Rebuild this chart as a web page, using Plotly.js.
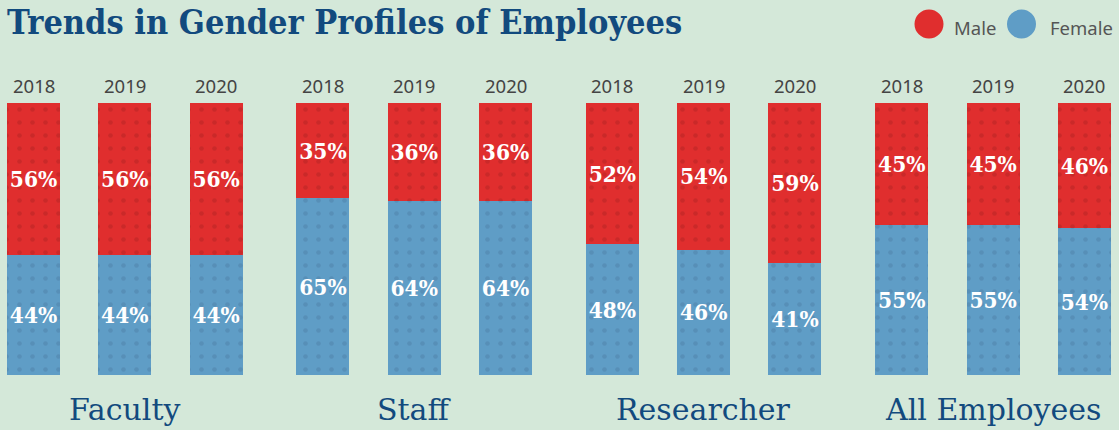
<!DOCTYPE html>
<html><head><meta charset="utf-8">
<script src="https://cdn.plot.ly/plotly-3.0.1.min.js"></script>
<style>html,body{margin:0;padding:0;background:#d4e8d9;}</style>
</head><body>
<div id="chart" style="width:1119px;height:430px;"></div>
<script>
const groups = ["Faculty", "Staff", "Researcher", "All Employees"];
const years = ["2018", "2019", "2020"];
const male = [56, 56, 56, 35, 36, 36, 52, 54, 59, 45, 45, 46];
const female = [44, 44, 44, 65, 64, 64, 48, 46, 41, 55, 55, 54];

const GROUP_STEP = 3.17;
const xs = [], yearLabels = [];
groups.forEach((g, gi) => years.forEach((y, yi) => { xs.push(gi * GROUP_STEP + yi); yearLabels.push(y); }));
const groupCenters = groups.map((g, gi) => gi * GROUP_STEP + 1);

const RED = "#e02e2e", BLUE = "#5f9dc6";
const pctFont = {family: "DejaVu Serif Condensed", size: 22.5, color: "#ffffff", weight: "bold"};

const femaleTrace = {
  type: "bar", x: xs, y: female, name: "Female", showlegend: false,
  marker: {color: BLUE, line: {width: 0}, pattern: {shape: ".", fgcolor: "#578fb7", size: 13, solidity: 0.1, fillmode: "replace", bgcolor: BLUE}},
  text: female.map(v => v + "%"), textposition: "inside", insidetextanchor: "middle", textangle: 0,
  constraintext: "none", textfont: pctFont, width: 0.58, hoverinfo: "skip"
};
const maleTrace = {
  type: "bar", x: xs, y: male, name: "Male", showlegend: false,
  marker: {color: RED, line: {width: 0}, pattern: {shape: ".", fgcolor: "#ca2929", size: 13, solidity: 0.1, fillmode: "replace", bgcolor: RED}},
  text: male.map(v => v + "%"), textposition: "inside", insidetextanchor: "middle", textangle: 0,
  constraintext: "none", textfont: pctFont, width: 0.58, hoverinfo: "skip"
};

const annotations = [];
xs.forEach((x, i) => annotations.push({
  x: x, y: 1, xref: "x", yref: "paper", yanchor: "bottom", yshift: 3, showarrow: false,
  text: yearLabels[i], font: {family: "Noto Sans", size: 18.5, color: "#444444"}
}));
groupCenters.forEach((x, i) => annotations.push({
  x: x, y: 0, xref: "x", yref: "paper", yanchor: "top", yshift: -15, showarrow: false,
  text: groups[i], font: {family: "DejaVu Serif", size: 30, color: "#124a7e"}
}));
annotations.push({
  x: 0, y: 1, xref: "paper", yref: "paper", xanchor: "left", yanchor: "middle",
  xshift: 5, yshift: 81, showarrow: false,
  text: "Trends in Gender Profiles of Employees",
  font: {family: "DejaVu Serif Condensed", size: 34, color: "#124a7e", weight: "bold"}
});
// legend
const legendItems = [{name: "Male", color: RED, px: 929, gap: 23}, {name: "Female", color: BLUE, px: 1021.5, gap: 26}];
const shapes = [];
legendItems.forEach(it => {
  const xf = it.px / 1119;
  shapes.push({type: "circle", xref: "paper", yref: "paper", xsizemode: "pixel", ysizemode: "pixel",
    xanchor: xf, yanchor: 1, x0: -14.5, x1: 14.5, y0: 64.5, y1: 93.5, fillcolor: it.color, line: {width: 0}});
  annotations.push({x: xf, y: 1, xref: "paper", yref: "paper", xanchor: "left", yanchor: "middle",
    xshift: it.gap, yshift: 76, showarrow: false, text: it.name,
    font: {family: "Noto Sans", size: 18.5, color: "#555555"}});
});

const layout = {
  width: 1119, height: 430, barmode: "stack",
  paper_bgcolor: "#d4e8d9", plot_bgcolor: "#d4e8d9",
  margin: {l: 0, r: 0, t: 103, b: 55},
  xaxis: {range: [-0.367, 11.889], showgrid: false, zeroline: false, showticklabels: false, fixedrange: true},
  yaxis: {range: [0, 100], showgrid: false, zeroline: false, showticklabels: false, fixedrange: true},
  showlegend: false, annotations: annotations, shapes: shapes
};
Plotly.newPlot("chart", [femaleTrace, maleTrace], layout, {displayModeBar: false, staticPlot: true});
</script>
</body></html>
